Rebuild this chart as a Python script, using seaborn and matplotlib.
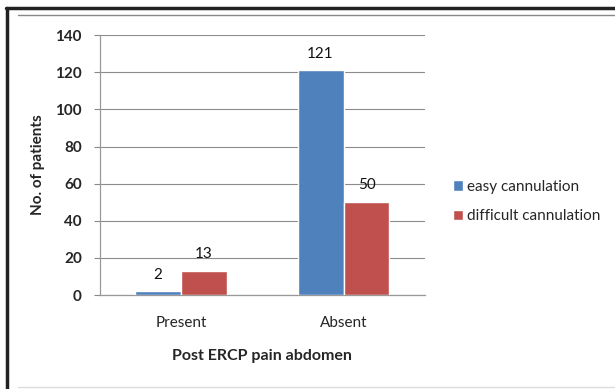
import matplotlib
matplotlib.use("Agg")
import matplotlib.pyplot as plt
from matplotlib.lines import Line2D
import seaborn as sns
import pandas as pd

categories = ["Present", "Absent"]
series = ["easy cannulation", "difficult cannulation"]
easy = [2, 121]
difficult = [13, 50]
yticks = [0, 20, 40, 60, 80, 100, 120, 140]

df = pd.DataFrame({
    "category": categories * 2,
    "group": [series[0]] * 2 + [series[1]] * 2,
    "value": easy + difficult,
})

sns.set_theme(style="white")
plt.rcParams["font.family"] = ["Lato", "DejaVu Sans"]

fig = plt.figure(figsize=(6.15, 3.89), dpi=100)
ax = fig.add_axes([0.1626, 0.2416, 0.528, 0.668])

palette = {series[0]: "#4F81BD", series[1]: "#C0504D"}
sns.barplot(data=df, x="category", y="value", hue="group", order=categories,
            hue_order=series, palette=palette, width=0.566, gap=0,
            saturation=1, ax=ax, legend=True, zorder=3)

for container in ax.containers:
    ax.bar_label(container, padding=7, fontsize=11, color="#111111")

ax.set_ylim(0, 140)
ax.set_yticks(yticks)
ax.set_yticklabels([str(t) for t in yticks], fontsize=11, fontweight="bold")
ax.set_xlim(-0.5, 1.5)
ax.tick_params(axis="x", labelsize=11, length=0, pad=15)
ax.tick_params(axis="y", length=4, width=0.8, color="#888888", pad=9, left=True)
ax.grid(axis="y", color="#8c8c8c", linewidth=0.8, zorder=0)
ax.set_axisbelow(True)
for side in ["top", "right"]:
    ax.spines[side].set_visible(False)
for side in ["left", "bottom"]:
    ax.spines[side].set_color("#999999")
    ax.spines[side].set_linewidth(0.9)
for lbl in ax.get_xticklabels():
    lbl.set_fontweight("normal")

ax.set_xlabel("Post ERCP pain abdomen", fontsize=11.5, fontweight="bold", labelpad=14)
ax.set_ylabel("No. of patients", fontsize=11, fontweight="bold", labelpad=7)

handles, labels = ax.get_legend_handles_labels()
ax.legend(handles, labels, loc="center left", bbox_to_anchor=(1.086, 0.36),
          frameon=False, fontsize=11, handlelength=0.65, handleheight=0.65,
          handletextpad=0.3, labelspacing=1.0, borderpad=0, borderaxespad=0)

# figure frame
fig.add_artist(Line2D([0.012, 0.012], [0.0, 0.98], color="#222222", lw=2.5))
fig.add_artist(Line2D([0.010, 1.0], [0.979, 0.979], color="#222222", lw=2.5))
fig.add_artist(Line2D([0.03, 1.0], [0.962, 0.962], color="#888888", lw=1.0))
fig.add_artist(Line2D([0.03, 1.0], [0.004, 0.004], color="#dddddd", lw=1.0))

fig.savefig("out.png", dpi=100)
